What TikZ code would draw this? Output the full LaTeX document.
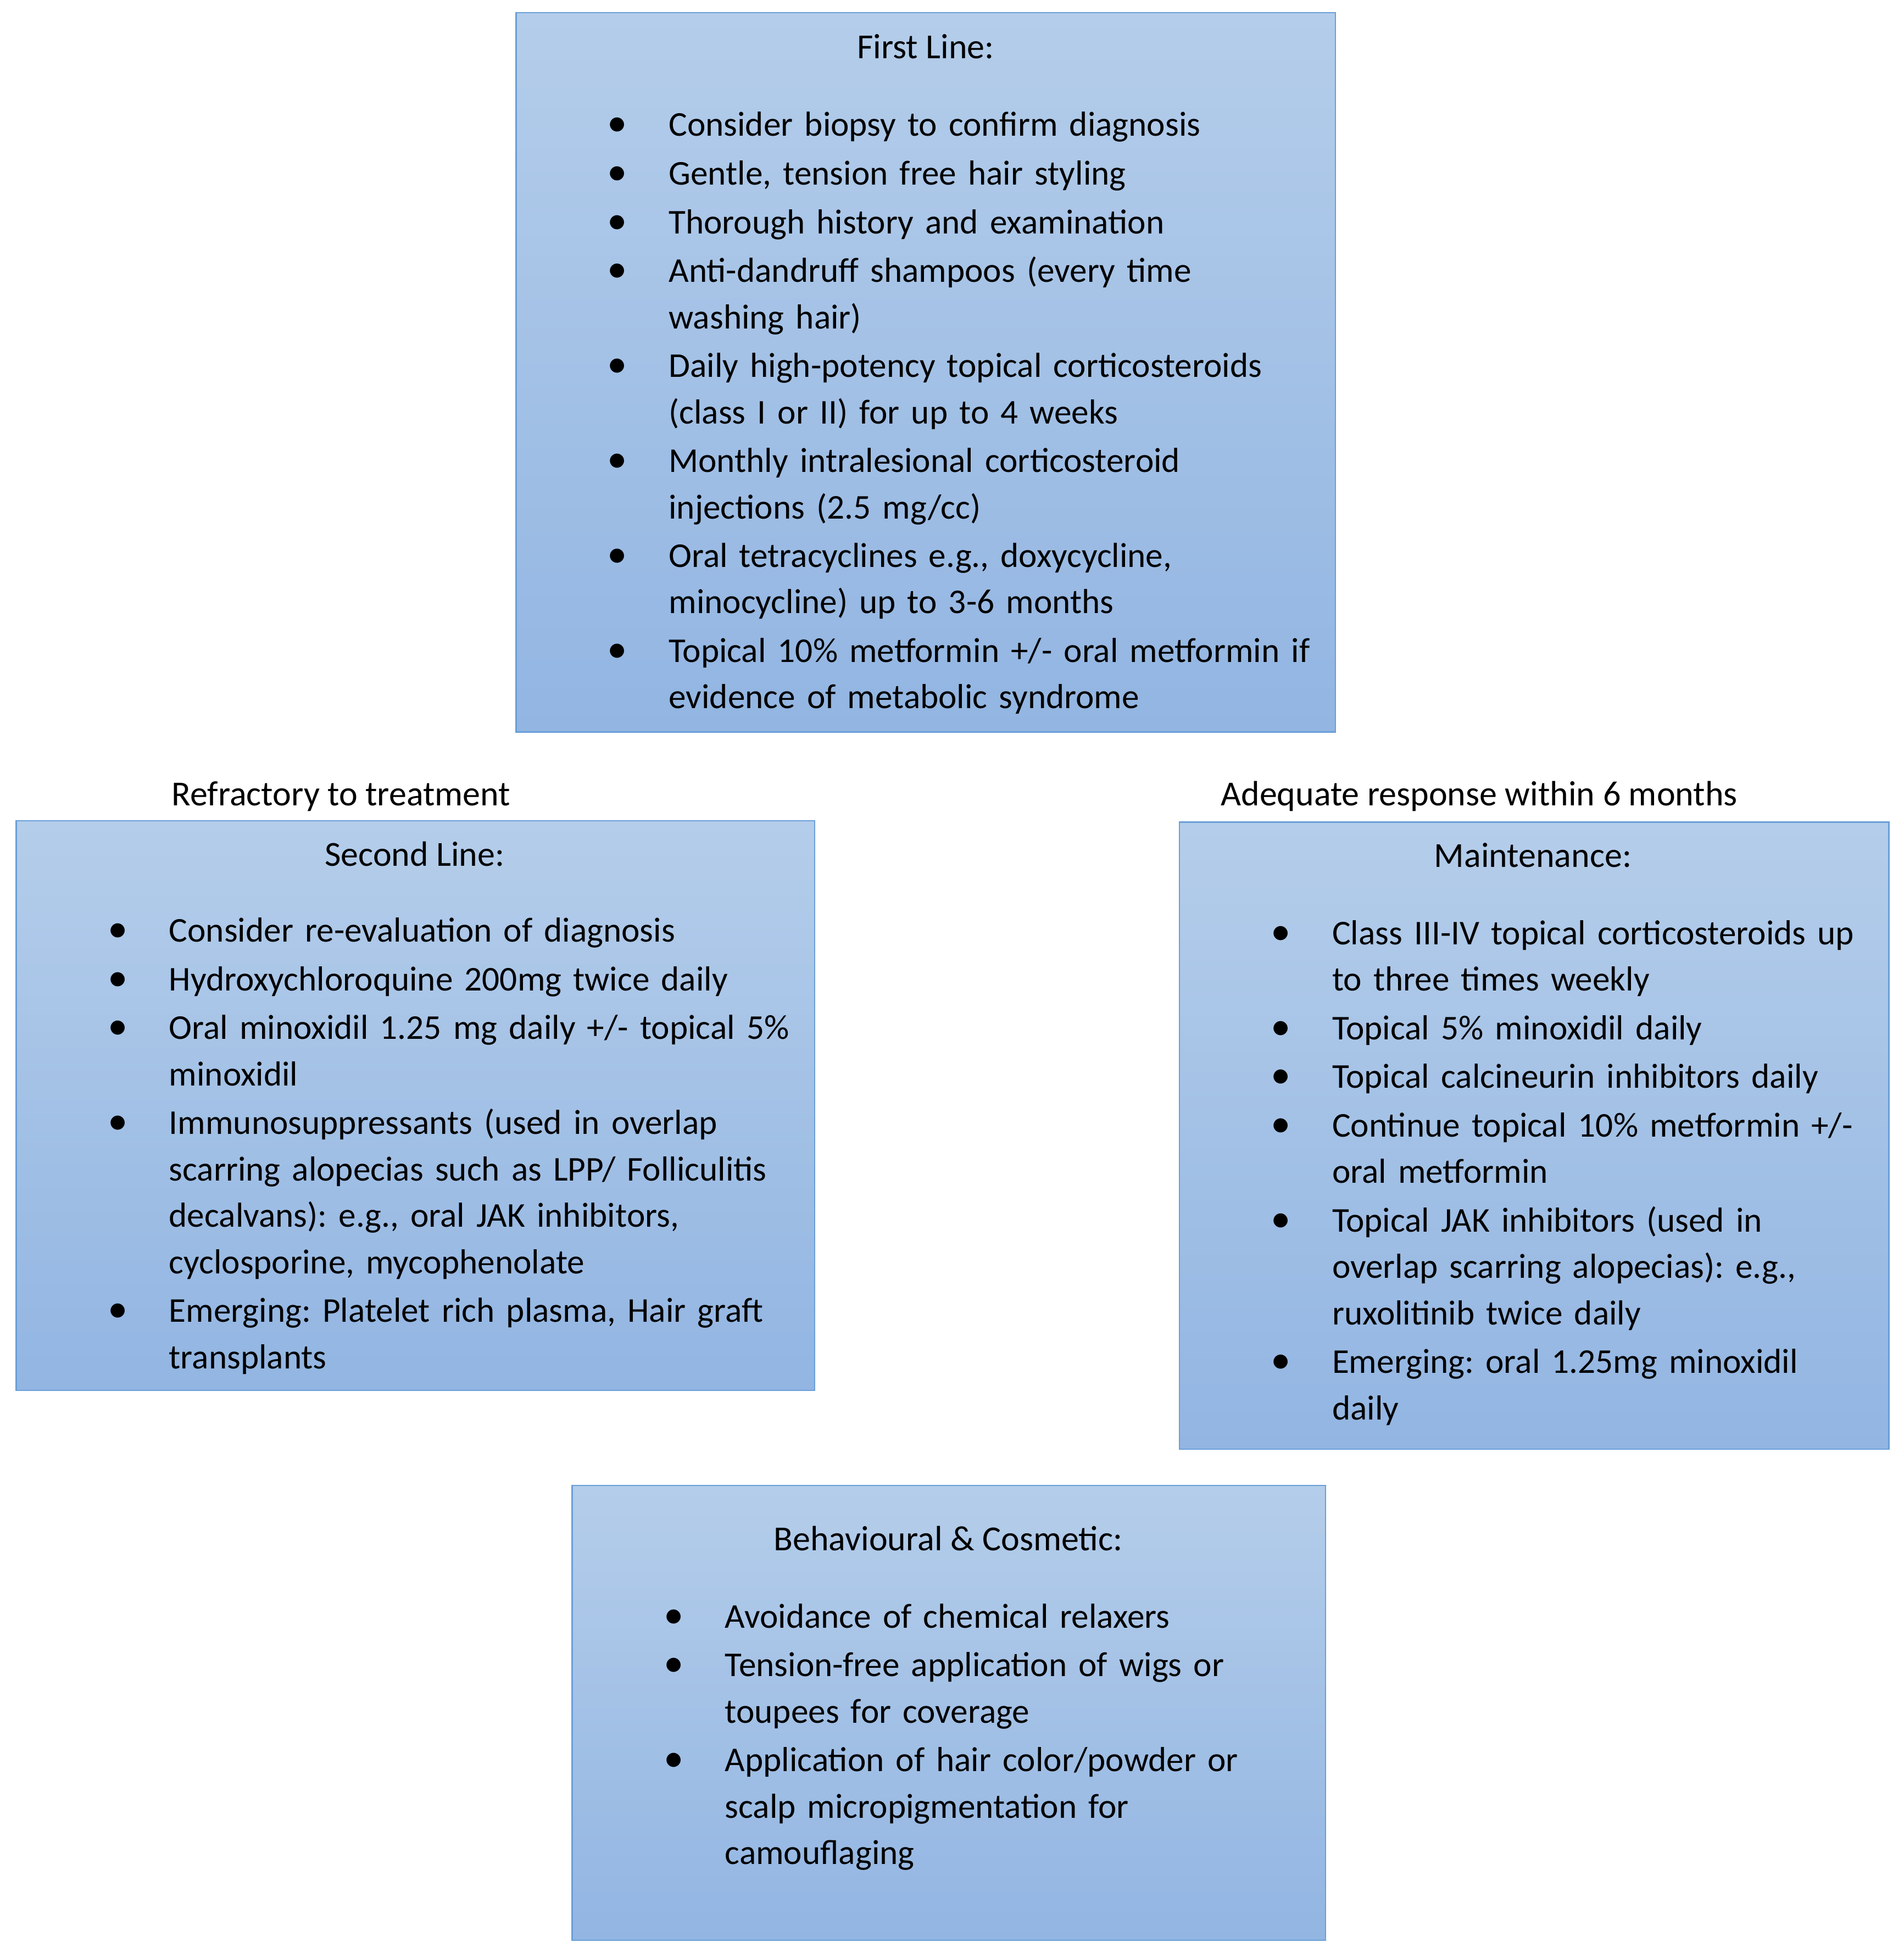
\documentclass[tikz,border=0pt]{standalone}
\usepackage{fontspec}
\setmainfont{Carlito}
\usetikzlibrary{fit}
\definecolor{paneltop}{HTML}{B4CDEA}
\definecolor{panelbot}{HTML}{92B5E2}
\definecolor{panelline}{HTML}{6A9FD8}
\newlength\bhang
\setlength\bhang{31.7pt}
\newcommand\bitem[1]{\noindent\hangindent=\bhang\hangafter=1\makebox[\bhang][l]{\scalebox{1.15}{\textbullet}}{\let\\\newline#1}\par}
\frenchspacing
\tikzset{
  panel/.style={draw=panelline, line width=0.7pt, top color=paneltop, bottom color=panelbot, inner sep=0pt},
  heading/.style={font=\fontsize{18.2pt}{24pt}\selectfont, anchor=base, inner sep=0pt},
  bullets/.style={font=\fontsize{18pt}{24pt}\selectfont, anchor=base west, inner sep=0pt,
    text width=#1, execute at begin node={\raggedright\frenchspacing\setlength\parskip{1.2pt}}},
}
\begin{document}
\begin{tikzpicture}[x=0.022736cm, y=-0.022736cm]
\useasboundingbox (0,0) rectangle (1524,1568);
% panels
\node[panel, fit={(413,10) (1069,586)}] (first) {};
\node[panel, fit={(13,657) (652,1113)}] (second) {};
\node[panel, fit={(944,658) (1512,1160)}] (maint) {};
\node[panel, fit={(458,1189) (1061,1553)}] (cosmetic) {};
% headings
\node[heading] (firsttitle) at (741,47) {First Line:};
\node[heading] (secondtitle) at (332,693) {Second Line:};
\node[heading] (mainttitle) at (1227,694) {Maintenance:};
\node[heading] (cosmetictitle) at (759,1241) {Behavioural \& Cosmetic:};
\node[heading] (refractory) at (273,645) {Refractory to treatment};
\node[heading] (adequate) at (1184,645) {Adequate response within 6 months};
% lists
\node[bullets=13.2cm] (firstlist) at (486,109) {%
\bitem{Consider biopsy to confirm diagnosis}
\bitem{Gentle, tension free hair styling}
\bitem{Thorough history and examination}
\bitem{Anti-dandruff shampoos (every time\\washing hair)}
\bitem{Daily high-potency topical corticosteroids\\(class I or II) for up to 4 weeks}
\bitem{Monthly intralesional corticosteroid\\injections (2.5 mg/cc)}
\bitem{Oral tetracyclines e.g., doxycycline,\\minocycline) up to 3-6 months}
\bitem{Topical 10\% metformin +/- oral metformin if\\evidence of metabolic syndrome}};
\node[bullets=12.8cm] (secondlist) at (86,754) {%
\bitem{Consider re-evaluation of diagnosis}
\bitem{Hydroxychloroquine 200mg twice daily}
\bitem{Oral minoxidil 1.25 mg daily +/- topical 5\%\\minoxidil}
\bitem{Immunosuppressants (used in overlap\\scarring alopecias such as LPP/ Folliculitis\\decalvans): e.g., oral JAK inhibitors,\\cyclosporine, mycophenolate}
\bitem{Emerging: Platelet rich plasma, Hair graft\\transplants}};
\node[bullets=11.2cm] (maintlist) at (1017,756) {%
\bitem{Class III-IV topical corticosteroids up\\to three times weekly}
\bitem{Topical 5\% minoxidil daily}
\bitem{Topical calcineurin inhibitors daily}
\bitem{Continue topical 10\% metformin +/-\\oral metformin}
\bitem{Topical JAK inhibitors (used in\\overlap scarring alopecias): e.g.,\\ruxolitinib twice daily}
\bitem{Emerging: oral 1.25mg minoxidil\\daily}};
\node[bullets=12cm] (cosmeticlist) at (531,1303) {%
\bitem{Avoidance of chemical relaxers}
\bitem{Tension-free application of wigs or\\toupees for coverage}
\bitem{Application of hair color/powder or\\scalp micropigmentation for\\camouflaging}};
\end{tikzpicture}
\end{document}
